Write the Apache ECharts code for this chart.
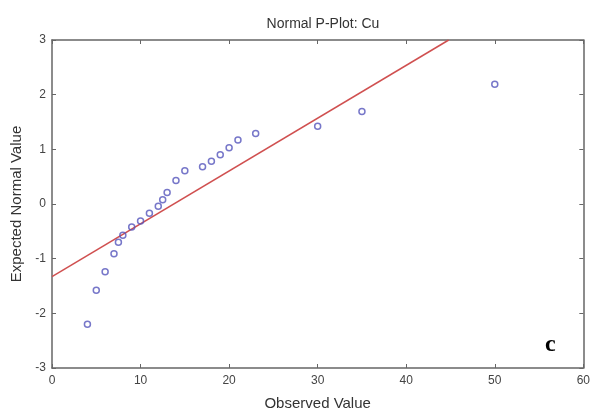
<!DOCTYPE html>
<html><head><meta charset="utf-8">
<script src="https://cdn.jsdelivr.net/npm/echarts@6/dist/echarts.min.js"></script>
<style>html,body{margin:0;padding:0;background:#fff}#c{width:593px;height:416px}</style>
</head><body><div id="c"></div>
<script>
var observed = [4, 5, 6, 7, 7.5, 8, 9, 10, 11, 12, 12.5, 13, 14, 15, 17, 18, 19, 20, 21, 23, 30, 35, 50];
var expected = [-2.2, -1.58, -1.24, -0.91, -0.7, -0.57, -0.42, -0.31, -0.17, -0.04, 0.08, 0.21, 0.43, 0.61, 0.68, 0.78, 0.9, 1.03, 1.17, 1.29, 1.42, 1.69, 2.19];
var lineX = [0, 44.8];
var lineY = [-1.33, 3];
var xTicks = [0, 10, 20, 30, 40, 50, 60];
var yTicks = [-3, -2, -1, 0, 1, 2, 3];

var pts = observed.map(function (v, i) { return [v, expected[i]]; });
var linePts = lineX.map(function (v, i) { return [v, lineY[i]]; });
var axisCol = '#666';
var labelCol = '#444';
var font = 'Arial, "Liberation Sans", sans-serif';

var chart = echarts.init(document.getElementById('c'), null, { renderer: 'canvas' });
chart.setOption({
  animation: false,
  title: {
    text: 'Normal P-Plot: Cu', left: 318, top: 12, textAlign: 'center',
    textStyle: { fontSize: 14, fontWeight: 'normal', color: '#333', fontFamily: font }
  },
  grid: { left: 52, right: 9, top: 40, bottom: 44 },
  xAxis: [{
    type: 'value', min: xTicks[0], max: xTicks[xTicks.length - 1], interval: 10,
    name: 'Observed Value', nameLocation: 'middle', nameGap: 28,
    nameTextStyle: { fontSize: 15, color: '#333', fontFamily: font },
    axisLine: { show: true, onZero: false, lineStyle: { color: axisCol, width: 1.5 } },
    axisTick: { show: true, inside: true, length: 4, lineStyle: { color: axisCol } },
    axisLabel: { color: labelCol, fontSize: 12, margin: 7, fontFamily: font },
    splitLine: { show: false }
  }, {
    type: 'value', position: 'top', min: 0, max: 60, interval: 10,
    axisLine: { show: true, onZero: false, lineStyle: { color: axisCol, width: 1.5 } },
    axisTick: { show: true, inside: true, length: 4, lineStyle: { color: axisCol } },
    axisLabel: { show: false }, splitLine: { show: false }
  }],
  yAxis: [{
    type: 'value', min: yTicks[0], max: yTicks[yTicks.length - 1], interval: 1,
    name: 'Expected Normal Value', nameLocation: 'middle', nameGap: 20,
    nameTextStyle: { fontSize: 15, color: '#333', fontFamily: font },
    axisLine: { show: true, onZero: false, lineStyle: { color: axisCol, width: 1.5 } },
    axisTick: { show: true, inside: true, length: 4, lineStyle: { color: axisCol } },
    axisLabel: { color: labelCol, fontSize: 12, margin: 6, fontFamily: font },
    splitLine: { show: false }
  }, {
    type: 'value', position: 'right', min: -3, max: 3, interval: 1,
    axisLine: { show: true, onZero: false, lineStyle: { color: axisCol, width: 1.5 } },
    axisTick: { show: true, inside: true, length: 4, lineStyle: { color: axisCol } },
    axisLabel: { show: false }, splitLine: { show: false }
  }],
  graphic: [{
    type: 'text', left: 545, top: 333,
    style: { text: 'c', font: 'bold 24px "Liberation Serif", "DejaVu Serif", serif', fill: '#000' }
  }],
  series: [{
    type: 'line', data: linePts, showSymbol: false, symbol: 'none',
    lineStyle: { color: '#d05050', width: 1.5 }, z: 2
  }, {
    type: 'scatter', data: pts, symbol: 'circle', symbolSize: 6,
    itemStyle: { color: 'rgba(0,0,0,0)', borderColor: '#5555bb', borderWidth: 1.5 }, z: 3
  }]
});
</script></body></html>
